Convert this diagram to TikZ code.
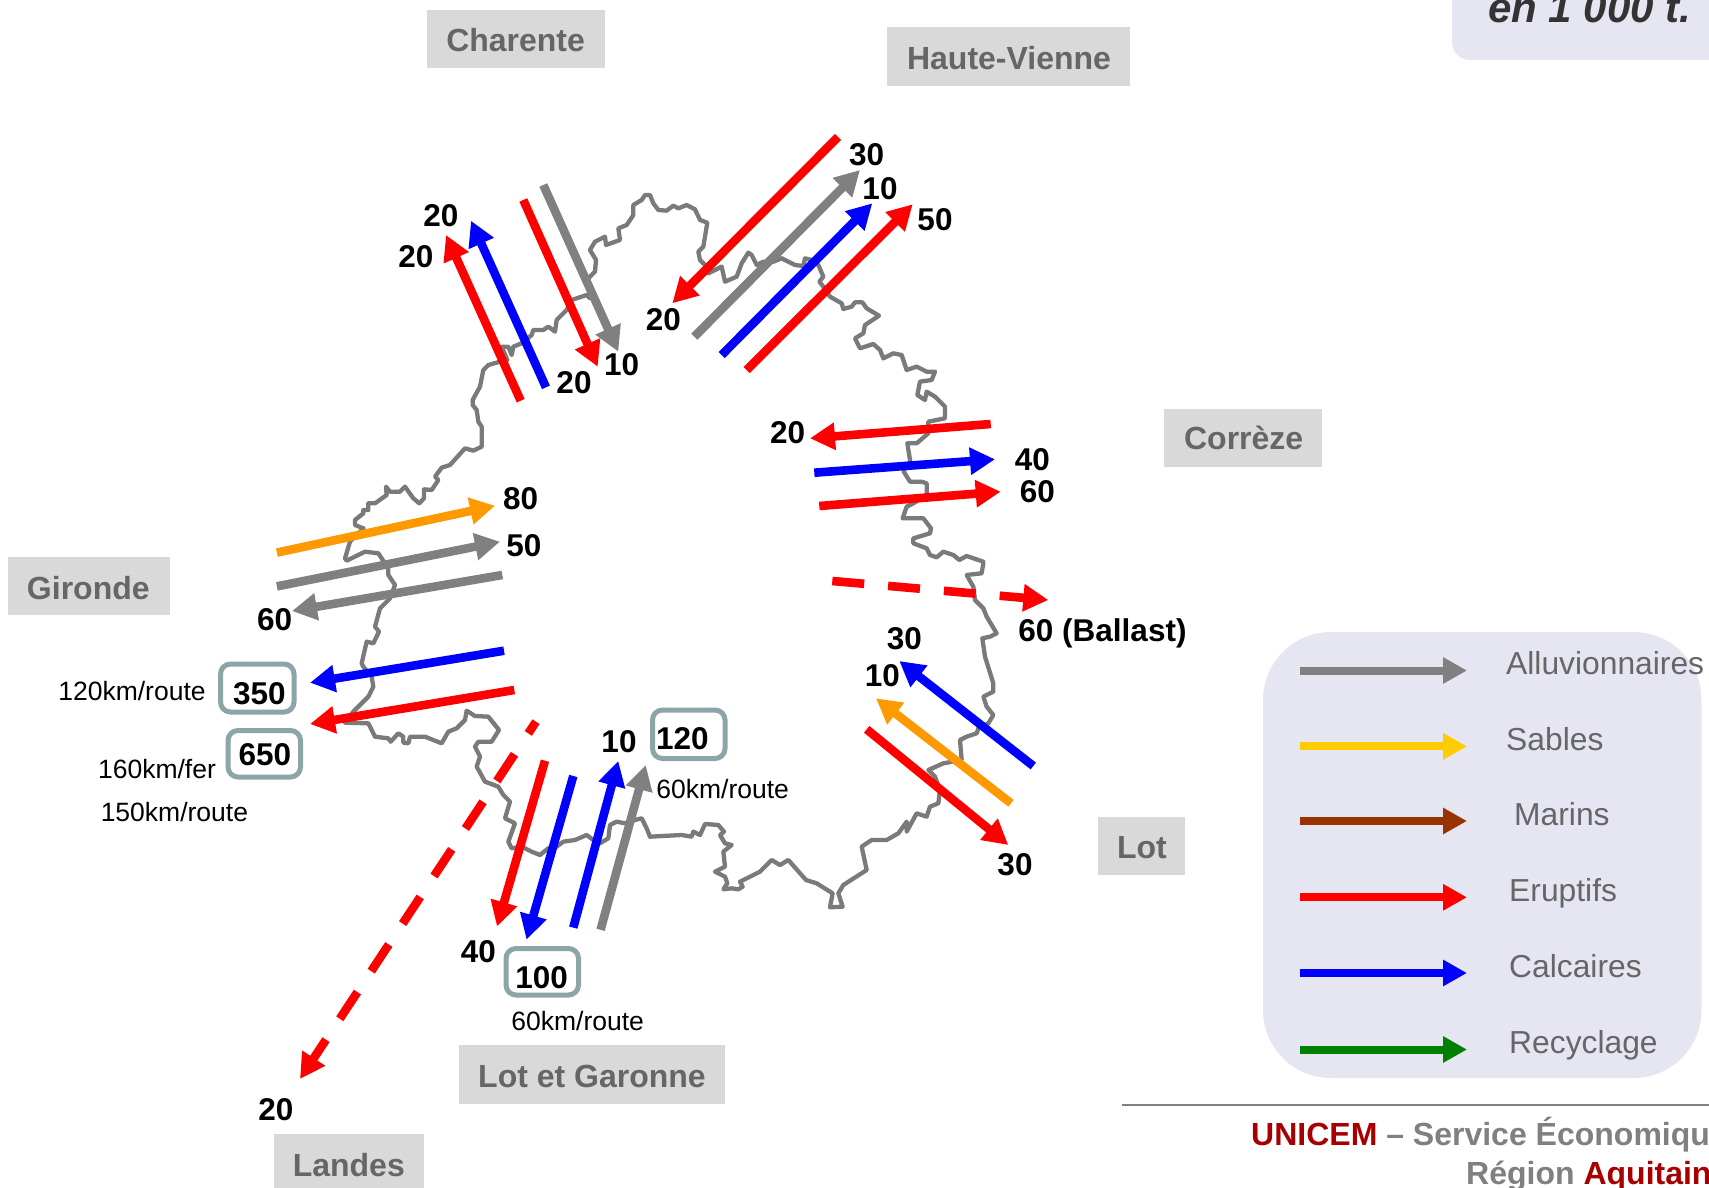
\documentclass[tikz,border=0pt]{standalone}
\usepackage{fontspec}
\setmainfont{Liberation Sans}
\usetikzlibrary{arrows.meta}
\definecolor{cgray}{HTML}{808080}
\definecolor{corange}{HTML}{FF9900}
\definecolor{cyellow}{HTML}{FFCC00}
\definecolor{cbrown}{HTML}{993300}
\definecolor{cgreen}{HTML}{008000}
\definecolor{lavender}{HTML}{E6E6F3}
\definecolor{labelbg}{HTML}{D9D9D9}
\definecolor{labeltx}{HTML}{666666}
\definecolor{boxline}{HTML}{8BA5A8}
\definecolor{unired}{HTML}{A80000}
\tikzset{
  arr/.style={line width=8.6pt,-{Triangle[length=25pt,width=26pt]}},
  dashA/.style={arr,dash pattern=on 32pt off 24pt},
  dashB/.style={arr,dash pattern=on 32pt off 25pt,dash phase=18pt},
  legarr/.style={line width=8pt,-{Triangle[length=24pt,width=25pt]}},
  border/.style={draw=black!52,line width=4.3pt,line join=round,line cap=round},
  zA/.style={shift={(300pt,-170pt)},x=.33333pt,y=-.33333pt},
  zB/.style={shift={(700pt,-170pt)},x=.33333pt,y=-.33333pt},
  zC/.style={shift={(300pt,-500pt)},x=.33333pt,y=-.33333pt},
  zD/.style={shift={(650pt,-550pt)},x=.33333pt,y=-.33333pt},
  num/.style={font=\fontsize{31.5}{36}\bfseries\selectfont,inner sep=0pt,text=black},
  small/.style={font=\fontsize{26.5}{30}\selectfont,inner sep=0pt,anchor=base,text=black},
  tag/.style={font=\fontsize{32}{38}\bfseries\selectfont,inner sep=0pt,anchor=base,text=labeltx},
  legtxt/.style={font=\fontsize{31.8}{38}\selectfont,inner sep=0pt,anchor=base west,text=labeltx},
  tagbox/.style={fill=labelbg,draw=none},
  numbox/.style={draw=boxline,line width=5pt,rounded corners=10pt,fill=white},
}
\begin{document}
\begin{tikzpicture}[x=1pt,y=-1pt]
\useasboundingbox (0,0) rectangle (1709,1188);
\clip (0,0) rectangle (1709,1188);
\fill[white] (0,0) rectangle (1709,1188);

% map outline
\path[border,zA] (190,1075) -- (165,1065) -- (165,1050) -- (190,1030) -- (190,1020) -- (205,1020) -- (205,1000) -- (225,1000) -- (260,975) -- (258,950) -- (270,965) -- (300,965) -- (315,950) -- (340,985) -- (358,1000) -- (372,985) -- (372,958) -- (395,960) -- (415,930) -- (405,920) -- (425,893) -- (450,885) -- (495,835) -- (520,842) -- (545,830) -- (545,770) -- (535,755) -- (530,720) -- (518,705) -- (518,690) -- (540,650) -- (550,600) -- (565,585) -- (600,575) -- (622,570) -- (605,530) -- (625,530) -- (635,555) -- (640,530) -- (665,520) -- (695,495) -- (700,480) -- (730,480) -- (745,470) -- (765,485) -- (770,450) -- (800,420) -- (815,390) -- (860,375) -- (870,385) -- (865,325) -- (885,305) -- (888,270) -- (870,240) -- (885,215) -- (915,200) -- (918,225) -- (960,210) -- (955,175) -- (980,165) -- (1000,135) -- (1000,105) -- (1025,90) -- (1035,75) -- (1050,75) -- (1060,100) -- (1075,120) -- (1100,122) -- (1120,107) -- (1135,115) -- (1160,105) -- (1185,118) -- (1200,150) -- (1222,158) -- (1210,230) -- (1195,245) -- (1200,270) -- (1220,290) -- (1225,310) -- (1265,290) -- (1275,335) -- (1310,320) -- (1325,280) -- (1345,248) -- (1355,255) -- (1370,285) -- (1390,275) -- (1420,275) -- (1445,265);
\path[border,zB] (245,265) -- (285,285) -- (310,288) -- (315,265) -- (335,270) -- (355,285) -- (370,320) -- (358,335) -- (370,350) -- (390,380) -- (425,400) -- (430,417) -- (455,410) -- (465,397) -- (487,397) -- (500,415) -- (537,437) -- (495,465) -- (490,490) -- (465,505) -- (480,535) -- (520,522) -- (540,540) -- (550,565) -- (580,550) -- (605,555) -- (620,600) -- (650,590) -- (680,605) -- (705,605) -- (695,630) -- (660,635) -- (652,675) -- (675,690) -- (680,665) -- (705,680) -- (735,710) -- (735,745) -- (685,755) -- (685,790) -- (650,820) -- (622,820) -- (630,870) -- (630,880) -- (610,903) -- (630,935) -- (665,935) -- (680,940) -- (680,975) -- (640,1000) -- (620,1010) -- (608,1045) -- (670,1045) -- (693,1075) -- (690,1090) -- (640,1105) -- (640,1120) -- (680,1135) -- (690,1155) -- (710,1162) -- (730,1145) -- (760,1155) -- (778,1170) -- (800,1158) -- (850,1175);
\path[border,zD] (1000,40) -- (995,70) -- (950,75) -- (970,110) -- (975,150) -- (1000,175) -- (1010,200) -- (1040,250) -- (1020,260) -- (997,265) -- (1005,320) -- (1030,400) -- (1030,425) -- (1000,440) -- (1010,470) -- (1030,495) -- (1015,520) -- (985,535) -- (980,550) -- (950,560) -- (930,570) -- (935,630) -- (880,640) -- (835,660) -- (855,680) -- (870,720) -- (865,760) -- (840,770) -- (830,800) -- (800,790) -- (770,845) -- (770,815) -- (745,850) -- (710,870) -- (665,870) -- (635,890) -- (650,960) -- (580,1005) -- (565,1030) -- (578,1070) -- (540,1072) -- (548,1030) -- (500,1000) -- (468,990) -- (415,930) -- (390,945) -- (365,930) -- (330,965) -- (270,995) -- (278,1010) -- (265,1018) -- (245,1015) -- (220,1018) -- (232,1000) -- (225,980) -- (195,965) -- (225,950) -- (220,905) -- (245,885) -- (225,880) -- (210,855) -- (222,845) -- (205,825) -- (165,822) -- (150,855) -- (130,845) -- (125,860) -- (95,855) -- (0,860);
\path[border,zC] (1050,1010) -- (1040,985) -- (1025,955) -- (1005,960) -- (975,970) -- (950,965) -- (930,975) -- (925,1015) -- (900,1030) -- (880,1020) -- (860,1005) -- (825,1020) -- (790,1025) -- (770,1040) -- (745,1045) -- (720,1065) -- (695,1055) -- (665,1040) -- (635,1045) -- (625,1025) -- (645,970) -- (615,955) -- (630,905) -- (610,885) -- (595,860) -- (555,845) -- (530,800) -- (540,770) -- (525,740) -- (535,725) -- (575,725) -- (597,690) -- (565,650) -- (525,648) -- (500,632) -- (495,660) -- (470,685) -- (445,695) -- (425,730) -- (375,710) -- (330,710) -- (325,730) -- (310,728) -- (310,710) -- (295,700) -- (272,725) -- (265,715) -- (225,710) -- (205,670) -- (135,668) -- (160,635) -- (205,590) -- (220,560) -- (215,530) -- (190,500) -- (185,490) -- (200,425) -- (220,430) -- (237,395) -- (225,380) -- (240,325) -- (270,295) -- (285,255) -- (265,225) -- (265,205) -- (235,160) -- (195,155) -- (140,182) -- (135,175) -- (150,125) -- (190,85);

% grey department labels
\fill[tagbox] (427.3,9.8) rectangle (605,67.6);
\fill[tagbox] (887.3,27.3) rectangle (1130.3,86);
\fill[tagbox] (1164,408.8) rectangle (1322,466.5);
\fill[tagbox] (7.6,557) rectangle (170,614.8);
\fill[tagbox] (1097.6,817) rectangle (1185,875);
\fill[tagbox] (459,1045.3) rectangle (725,1104);
\fill[tagbox] (273.6,1133.6) rectangle (424,1188);
\node[tag] (charente) at (515.6,52) {Charente};
\node[tag] (hautevienne) at (1009,69.5) {Haute-Vienne};
\node[tag] (correze) at (1243.7,449.5) {Corrèze};
\node[tag] (gironde) at (88.3,599) {Gironde};
\node[tag] (lot) at (1142,858) {Lot};
\node[tag] (lotgaronne) at (592,1087.5) {Lot et Garonne};
\node[tag] (landes) at (348.8,1176) {Landes};

% Charente arrows
\draw[arr,red] (520.7,400.7) -- (446,235);
\draw[arr,blue] (546,387.3) -- (471,220.7);
\draw[arr,red] (523.3,200) -- (597.7,366.7);
\draw[arr,cgray] (543.3,185) -- (618.3,351.7);
% Haute-Vienne arrows
\draw[arr,red] (838,137) -- (672.3,303.3);
\draw[arr,cgray] (694.3,336.7) -- (860,170);
\draw[arr,blue] (721.7,355) -- (872.3,203.3);
\draw[arr,red] (746.7,370) -- (912.7,204.3);
% Correze arrows
\draw[arr,red] (990.7,424) -- (810,438.3);
\draw[arr,blue] (814.3,472.7) -- (995,459.3);
\draw[arr,red] (819.3,506) -- (1000.7,491.7);
\draw[dashA,red] (832.3,581) -- (1048.3,600);
% Lot arrows
\draw[arr,blue] (1033.3,766) -- (899.3,661);
\draw[arr,corange] (1011,803.3) -- (876,698.3);
\draw[arr,red] (866.7,729.3) -- (1008.3,845);
% Lot et Garonne arrows
\draw[arr,red] (545,760.7) -- (497,926.5);
\draw[arr,blue] (573.3,776) -- (526.5,939.6);
\draw[arr,blue] (573.3,927.6) -- (618.3,761);
\draw[arr,cgray] (600.6,929.8) -- (645.7,765);
\draw[dashB,red] (536,721.7) -- (300,1079);
% Gironde arrows
\draw[arr,corange] (276.9,552.6) -- (495,505.7);
\draw[arr,cgray] (276.9,586.4) -- (500,541.7);
\draw[arr,cgray] (502.3,575) -- (292,611);
\draw[arr,blue] (504,650.7) -- (310,682.7);
\draw[arr,red] (514.3,690) -- (310,724);

% number boxes
\draw[numbox] (220.5,664) rectangle (294,712);
\draw[numbox] (228,730.5) rectangle (300.5,777);
\draw[numbox] (652.5,710) rectangle (725,758.5);
\draw[numbox] (506,948.5) rectangle (578.5,995);
\node[num] (n350) at (259.4,694) {350};
\node[num] (n650) at (264.9,754.3) {650};
\node[num] (n120) at (682.3,738.3) {120};
\node[num] (n100) at (541.7,977.7) {100};

% numbers
\node[num] (a1) at (441,216) {20};
\node[num] (a2) at (416,256.7) {20};
\node[num] (a3) at (574,382.7) {20};
\node[num] (a4) at (621.7,365) {10};
\node[num] (b1) at (663.3,320) {20};
\node[num] (b2) at (866.7,154.8) {30};
\node[num] (b3) at (880,189) {10};
\node[num] (b4) at (935,220) {50};
\node[num] (c1) at (787.7,433) {20};
\node[num] (c2) at (1032.3,459.3) {40};
\node[num] (c3) at (1037.3,492) {60};
\node[num,anchor=base] (c4) at (1102.5,641) {60 (Ballast)};
\node[num] (d1) at (904.3,638.3) {30};
\node[num] (d2) at (882.3,676) {10};
\node[num] (d3) at (1015,864.5) {30};
\node[num] (e1) at (619,742) {10};
\node[num] (e2) at (478.5,952) {40};
\node[num] (f1) at (275.8,1109.6) {20};
\node[num] (g1) at (520.7,499) {80};
\node[num] (g2) at (524,545.5) {50};
\node[num] (g3) at (274.7,619.5) {60};

% small labels
\node[small] (s1) at (132,700) {120km/route};
\node[small] (s2) at (157,778.5) {160km/fer};
\node[small] (s3) at (174.4,821) {150km/route};
\node[small] (s4) at (722.7,798.3) {60km/route};
\node[small] (s5) at (577.7,1030.3) {60km/route};

% legend
\fill[lavender] (1263,632) [rounded corners=68pt] rectangle (1701.5,1078);
\draw[legarr,cgray] (1300.4,670.5) -- (1467,670.5);
\draw[legarr,cyellow] (1300.4,746.4) -- (1467,746.4);
\draw[legarr,cbrown] (1300.4,821) -- (1467,821);
\draw[legarr,red] (1300.4,897.3) -- (1467,897.3);
\draw[legarr,blue] (1300.4,973) -- (1467,973);
\draw[legarr,cgreen] (1300.4,1049.5) -- (1467,1049.5);
\node[legtxt] (l1) at (1506,674.5) {Alluvionnaires};
\node[legtxt] (l2) at (1506,750.8) {Sables};
\node[legtxt] (l3) at (1514,825) {Marins};
\node[legtxt] (l4) at (1509,901.5) {Eruptifs};
\node[legtxt] (l5) at (1509,977.8) {Calcaires};
\node[legtxt] (l6) at (1509,1053.3) {Recyclage};

% footer
\draw[cgray,line width=2pt] (1121.6,1105) -- (1709,1105);
\node[font=\fontsize{32}{38}\bfseries\selectfont,inner sep=0pt,anchor=base west,text=cgray] (foot1) at (1251,1145) {\textcolor{unired}{UNICEM} – Service Économique};
\node[font=\fontsize{32}{38}\bfseries\selectfont,inner sep=0pt,anchor=base west,text=cgray] (foot2) at (1466,1184) {Région \textcolor{unired}{Aquitaine}};

% top-right box
\fill[lavender] (1452,-60) [rounded corners=18pt] rectangle (1760,60);
\node[font=\fontsize{42}{48}\bfseries\itshape\selectfont,inner sep=0pt,anchor=base west,text=black!80] (unit) at (1488,23) {en 1 000 t.};
\end{tikzpicture}
\end{document}
